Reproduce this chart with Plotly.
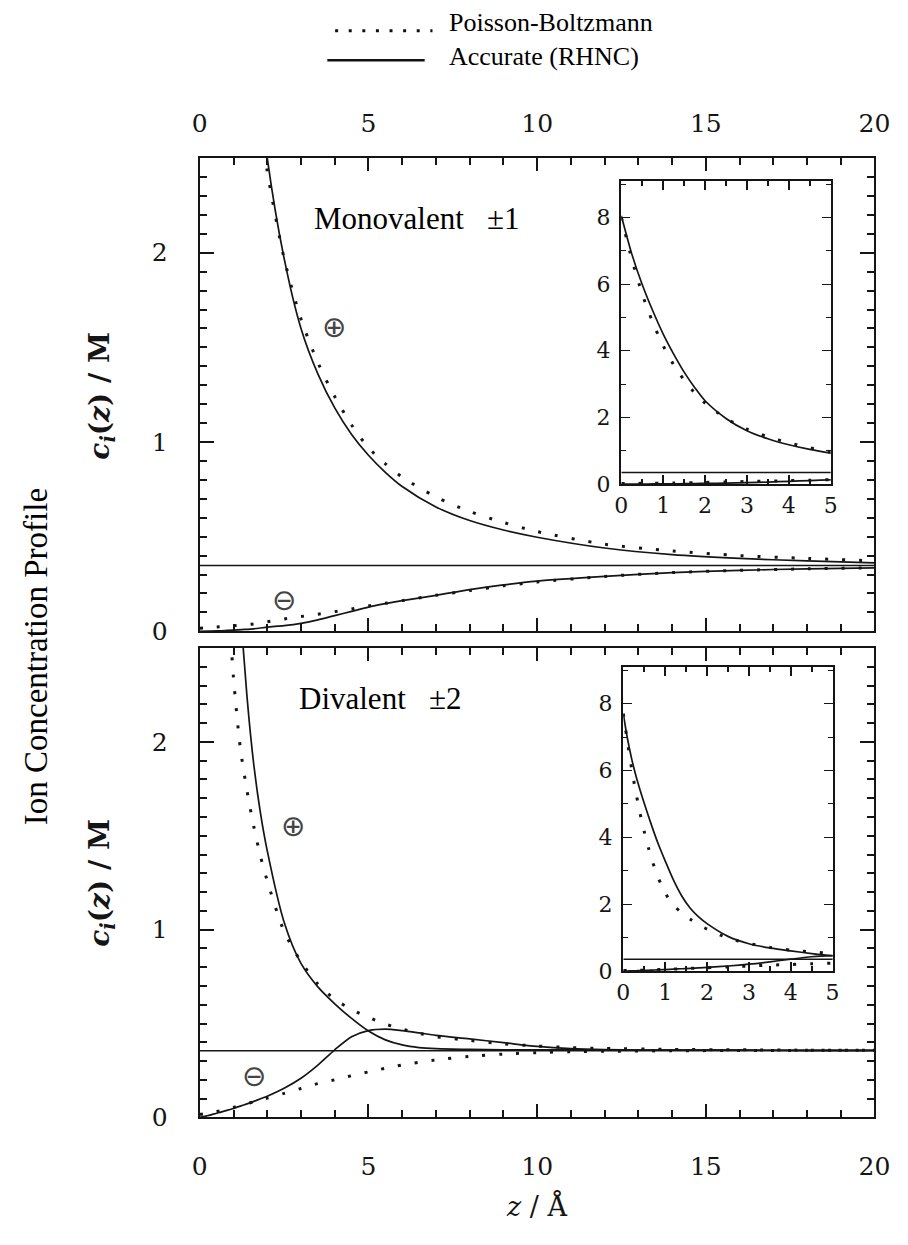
import plotly.graph_objects as go

# ---------------- data ----------------
# distance from the wall, z (Å)
Z_MONO = [0, 0.25, 0.5, 0.75, 1.0, 1.25, 1.5, 1.75, 2.0, 2.5, 3.0, 3.5, 4.0, 4.5, 5.0, 5.5,
          6, 7, 8, 9, 10, 12, 14, 16, 18, 20]
# monovalent (±1) electrolyte, concentrations in M
MONO_CAT_RHNC = [8.05, 6.9, 5.98, 5.2, 4.5, 3.9, 3.36, 2.9, 2.5, 1.97, 1.6, 1.36, 1.18, 1.04, 0.93,
                 0.84, 0.765, 0.657, 0.585, 0.535, 0.497, 0.44, 0.405, 0.385, 0.372, 0.362]
MONO_CAT_PB = [8.0, 6.75, 5.7, 4.85, 4.15, 3.58, 3.12, 2.74, 2.43, 1.97, 1.65, 1.42, 1.24, 1.09, 0.97,
               0.885, 0.815, 0.71, 0.633, 0.575, 0.527, 0.46, 0.425, 0.4, 0.385, 0.372]
MONO_AN_RHNC = [0, 0.001, 0.002, 0.004, 0.006, 0.009, 0.012, 0.016, 0.022, 0.03, 0.042, 0.06, 0.083,
                0.105, 0.128, 0.146, 0.162, 0.19, 0.22, 0.245, 0.265, 0.29, 0.31, 0.322, 0.33, 0.335]
MONO_AN_PB = [0.016, 0.019, 0.023, 0.026, 0.029, 0.033, 0.037, 0.043, 0.05, 0.065, 0.078, 0.09, 0.104,
              0.118, 0.134, 0.148, 0.162, 0.19, 0.215, 0.24, 0.26, 0.29, 0.31, 0.322, 0.33, 0.335]

Z_DI = [0, 0.1, 0.2, 0.3, 0.4, 0.5, 0.6, 0.7, 0.8, 0.9, 1.0, 1.2, 1.4, 1.6, 1.8, 2.0, 2.5, 3.0,
        3.5, 4.0, 4.5, 5.0, 5.5, 6.0, 6.5, 7, 8, 9, 10, 11, 12, 14, 16, 18, 20]
# divalent (±2) electrolyte
DI_CAT_RHNC = [7.7, 6.95, 6.35, 5.85, 5.42, 5.02, 4.64, 4.27, 3.92, 3.6, 3.3, 2.72, 2.24, 1.88, 1.62,
               1.42, 1.04, 0.82, 0.695, 0.605, 0.527, 0.46, 0.413, 0.386, 0.372, 0.366, 0.362, 0.36,
               0.36, 0.36, 0.359, 0.358, 0.358, 0.357, 0.357]
DI_CAT_PB = [7.7, 6.85, 6.05, 5.35, 4.72, 4.17, 3.69, 3.27, 2.91, 2.6, 2.34, 1.97, 1.74, 1.55, 1.39,
             1.26, 0.99, 0.83, 0.71, 0.63, 0.575, 0.533, 0.497, 0.47, 0.448, 0.43, 0.41, 0.392,
             0.38, 0.372, 0.367, 0.362, 0.36, 0.358, 0.357]
DI_AN_RHNC = [0, 0.004, 0.008, 0.012, 0.017, 0.022, 0.027, 0.032, 0.037, 0.042, 0.048, 0.06, 0.072,
              0.085, 0.099, 0.113, 0.155, 0.208, 0.278, 0.36, 0.43, 0.462, 0.47, 0.462, 0.45, 0.437,
              0.418, 0.398, 0.378, 0.366, 0.361, 0.358, 0.358, 0.357, 0.357]
DI_AN_PB = [0.016, 0.018, 0.021, 0.024, 0.027, 0.031, 0.035, 0.039, 0.044, 0.048, 0.053, 0.063, 0.073,
            0.083, 0.093, 0.103, 0.128, 0.154, 0.18, 0.2, 0.222, 0.242, 0.262, 0.279, 0.293, 0.306,
            0.325, 0.337, 0.345, 0.35, 0.352, 0.355, 0.356, 0.357, 0.357]

# bulk concentration reference lines
Z_BULK = [0, 20]
MONO_BULK = [0.348, 0.348]
DI_BULK = [0.355, 0.355]

# ---------------- layout helpers ----------------
W, H = 908, 1245


def fx(p):
    return p / W


def fy(p):
    return 1 - p / H


INK = "#151515"
TICK_FONT = dict(family="DejaVu Serif", size=25, color=INK)
INSET_FONT = dict(family="DejaVu Serif", size=22, color=INK)
TEXT_FONT = "Liberation Serif"

SOLID = dict(color=INK, width=1.7, shape="spline", smoothing=0.8)
DOTTED = dict(color=INK, width=3, dash="3px,14px", shape="spline", smoothing=0.8)

fig = go.Figure()

panels = [
    ("x", "y", "x3", "y3", Z_MONO, MONO_CAT_RHNC, MONO_CAT_PB, MONO_AN_RHNC, MONO_AN_PB, MONO_BULK),
    ("x2", "y2", "x4", "y4", Z_DI, DI_CAT_RHNC, DI_CAT_PB, DI_AN_RHNC, DI_AN_PB, DI_BULK),
]

for xm, ym, xi, yi, z, cat_r, cat_p, an_r, an_p, bulk in panels:
    for xa, ya in ((xm, ym), (xi, yi)):
        fig.add_trace(go.Scatter(x=Z_BULK, y=bulk, mode="lines", xaxis=xa, yaxis=ya,
                                 line=dict(color=INK, width=1.4)))
        fig.add_trace(go.Scatter(x=z, y=cat_p, mode="lines", xaxis=xa, yaxis=ya,
                                 line=DOTTED, name="Poisson-Boltzmann"))
        fig.add_trace(go.Scatter(x=z, y=an_p, mode="lines", xaxis=xa, yaxis=ya,
                                 line=DOTTED, name="Poisson-Boltzmann"))
        fig.add_trace(go.Scatter(x=z, y=cat_r, mode="lines", xaxis=xa, yaxis=ya,
                                 line=SOLID, name="Accurate (RHNC)"))
        fig.add_trace(go.Scatter(x=z, y=an_r, mode="lines", xaxis=xa, yaxis=ya,
                                 line=SOLID, name="Accurate (RHNC)"))

frame = dict(showline=True, linewidth=2.2, linecolor=INK, mirror="ticks", ticks="inside",
             showgrid=False, zeroline=False, tickcolor=INK)


def main_x(domain, anchor, side):
    return dict(frame, domain=domain, anchor=anchor, range=[0, 20], tick0=0, dtick=5,
                ticklen=13, tickwidth=1.8, side=side, tickfont=TICK_FONT,
                ticklabelstandoff=14 if side == "top" else 26,
                minor=dict(dtick=1, ticklen=7, ticks="inside", tickcolor=INK))


def main_y(domain, anchor):
    return dict(frame, domain=domain, anchor=anchor, range=[0, 2.5], tick0=0, dtick=1,
                ticklen=14, tickwidth=1.6, tickfont=TICK_FONT, ticksuffix="\u2003",
                minor=dict(dtick=0.1, ticklen=7, ticks="inside", tickcolor=INK))


def inset_x(domain, anchor):
    return dict(frame, domain=domain, anchor=anchor, range=[0, 5], tick0=0, dtick=1, ticklen=9,
                tickwidth=1.5, tickfont=INSET_FONT,
                minor=dict(dtick=0.5, ticklen=5, ticks="inside", tickcolor=INK))


def inset_y(domain, anchor):
    return dict(frame, domain=domain, anchor=anchor, range=[0, 9.1], tick0=0, dtick=2, ticklen=9,
                tickwidth=1.4, tickfont=INSET_FONT, ticksuffix="\u2009",
                minor=dict(dtick=1, ticklen=5, ticks="inside", tickcolor=INK))


fig.update_layout(
    width=W, height=H, margin=dict(l=0, r=0, t=0, b=0),
    plot_bgcolor="white", showlegend=False,
    xaxis=main_x([fx(197), fx(890)], "y", "top"),
    yaxis=main_y([fy(639), fy(160)], "x"),
    xaxis2=main_x([fx(197), fx(890)], "y2", "bottom"),
    yaxis2=main_y([fy(1131), fy(656)], "x2"),
    xaxis3=inset_x([fx(630), fx(845)], "y3"),
    yaxis3=inset_y([fy(490), fy(183)], "x3"),
    xaxis4=inset_x([fx(632), fx(847)], "y4"),
    yaxis4=inset_y([fy(983), fy(675)], "x4"),
)

# axis captions
Y_TITLE = "<b><i>c</i><sub><i>i</i></sub>(<i>z</i>) / M</b>"
for yc in (fy(400), fy(893)):
    fig.add_annotation(x=fx(96), y=yc, xref="paper", yref="paper", text=Y_TITLE, textangle=-90,
                       showarrow=False, xanchor="center", yanchor="middle",
                       font=dict(family="DejaVu Serif", size=28, color=INK))
fig.add_annotation(x=fx(543), y=fy(1221), xref="paper", yref="paper", text="<i>z</i> / Å",
                   showarrow=False, xanchor="center", yanchor="middle",
                   font=dict(family="DejaVu Serif", size=27, color=INK))

# panel captions and ion signs
notes = [
    ("x", "y", 3.32, 2.18, "Monovalent\u00a0\u00a0 ±1", TEXT_FONT, 31, "left"),
    ("x2", "y2", 2.89, 2.23, "Divalent\u00a0\u00a0 ±2", TEXT_FONT, 31, "left"),
    ("x", "y", 3.99, 1.61, "⊕", "DejaVu Sans", 29, "center"),
    ("x", "y", 2.49, 0.167, "⊖", "DejaVu Sans", 29, "center"),
    ("x2", "y2", 2.75, 1.55, "⊕", "DejaVu Sans", 29, "center"),
    ("x2", "y2", 1.62, 0.22, "⊖", "DejaVu Sans", 29, "center"),
]
for xr, yr, xv, yv, txt, fam, size, anchor in notes:
    fig.add_annotation(x=xv, y=yv, xref=xr, yref=yr, text=txt, showarrow=False,
                       xanchor=anchor, yanchor="middle",
                       font=dict(family=fam, size=size, color="#444" if fam == "DejaVu Sans" else "#000"))

# overall ordinate caption
fig.add_annotation(x=fx(29), y=fy(665), xref="paper", yref="paper", text="Ion Concentration Profile",
                   textangle=-90, showarrow=False, xanchor="center", yanchor="middle",
                   font=dict(family=TEXT_FONT, size=33, color="#000"))

# key
fig.add_shape(type="line", xref="paper", yref="paper", x0=fx(336), x1=fx(436), y0=fy(31), y1=fy(31),
              line=dict(color="#111", width=3, dash="3px,10.6px"))
fig.add_shape(type="line", xref="paper", yref="paper", x0=fx(328), x1=fx(428), y0=fy(61), y1=fy(61),
              line=dict(color="#111", width=2.5))
fig.add_annotation(x=fx(451), y=fy(23), xref="paper", yref="paper", text="Poisson-Boltzmann",
                   showarrow=False, xanchor="left", yanchor="middle",
                   font=dict(family=TEXT_FONT, size=26, color="#000"))
fig.add_annotation(x=fx(451), y=fy(57), xref="paper", yref="paper", text="Accurate (RHNC)",
                   showarrow=False, xanchor="left", yanchor="middle",
                   font=dict(family=TEXT_FONT, size=26, color="#000"))

fig.write_html("out.html")
